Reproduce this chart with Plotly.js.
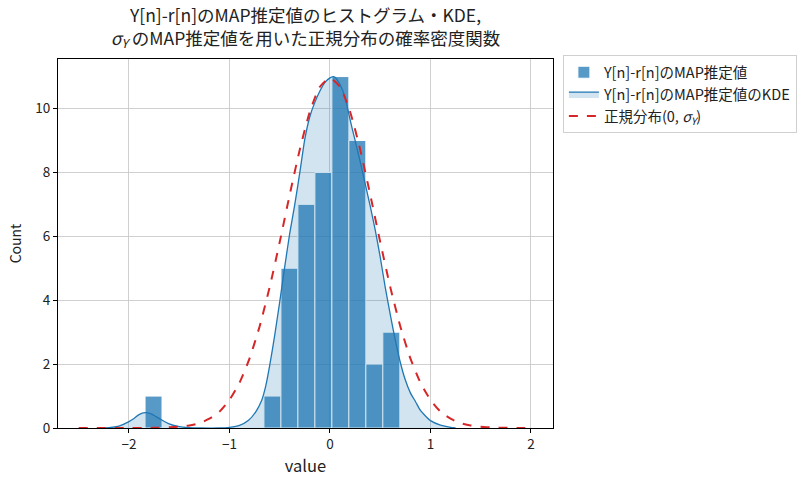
<!DOCTYPE html>
<html>
<head>
<meta charset="utf-8">
<script src="https://cdn.plot.ly/plotly-3.0.1.min.js"></script>
<style>
  body { margin: 0; background: #fff; }
  #myDiv { width: 811px; height: 485px; }
</style>
</head>
<body>
<div id="myDiv"></div>
<script>
// histogram bins (width ~0.169)
var binCenters = [-1.7555, -1.5865, -1.4175, -1.2485, -1.0795, -0.9105, -0.7415,
                  -0.5725, -0.4035, -0.2345, -0.0655, 0.1035, 0.2725, 0.4415, 0.6105];
var counts = [1, 0, 0, 0, 0, 0, 0, 1, 5, 7, 8, 11, 9, 2, 3];
var binWidth = 0.169;

// KDE curve
var kdeX = [-2.30, -2.20, -2.10, -2.00, -1.95, -1.90, -1.84, -1.78, -1.70, -1.60, -1.50, -1.40, -1.30,
            -1.10, -1.00, -0.90, -0.81, -0.74, -0.68, -0.64, -0.60, -0.55, -0.50, -0.45, -0.40,
            -0.35, -0.30, -0.25, -0.20, -0.15, -0.10, -0.05, 0.00, 0.03, 0.05, 0.10, 0.15, 0.20,
            0.25, 0.30, 0.35, 0.40, 0.45, 0.50, 0.55, 0.60, 0.65, 0.70, 0.75, 0.80, 0.85, 0.90,
            1.00, 1.10, 1.20, 1.25];
var kdeY = [0.00, 0.01, 0.06, 0.20, 0.30, 0.42, 0.48, 0.44, 0.30, 0.13, 0.04, 0.01, 0.00,
            0.00, 0.02, 0.08, 0.24, 0.50, 0.86, 1.30, 1.95, 2.90, 3.95, 5.05, 6.10,
            7.00, 8.00, 9.05, 9.75, 10.20, 10.55, 10.82, 10.96, 11.00, 10.98, 10.75, 10.35, 9.65,
            9.00, 8.35, 7.65, 6.95, 6.20, 5.35, 4.40, 3.55, 2.75, 2.05, 1.50, 1.10, 0.83, 0.55,
            0.23, 0.09, 0.02, 0.00];

// normal pdf (0, sigma_Y), scaled
var normX = [-2.5, -2.0, -1.9, -1.8, -1.7, -1.6, -1.5, -1.4, -1.3, -1.2, -1.1, -1.0, -0.9, -0.8,
             -0.7, -0.6, -0.5, -0.4, -0.3, -0.2, -0.1, 0.0, 0.1, 0.2, 0.3, 0.4, 0.5, 0.6, 0.7,
             0.8, 0.9, 1.0, 1.1, 1.2, 1.3, 1.4, 1.5, 1.6, 1.7, 1.8, 1.9, 2.0];
var normY = [0.0, 0.0, 0.001, 0.003, 0.007, 0.02, 0.04, 0.08, 0.15, 0.29, 0.51, 0.88, 1.42, 2.18,
             3.18, 4.41, 5.82, 7.31, 8.72, 9.90, 10.68, 10.95, 10.68, 9.90, 8.72, 7.31, 5.82, 4.41, 3.18,
             2.18, 1.42, 0.88, 0.51, 0.29, 0.15, 0.08, 0.04, 0.02, 0.007, 0.003, 0.001, 0.0];

var xTicks = [-2, -1, 0, 1, 2];
var yTicks = [0, 2, 4, 6, 8, 10];

var FONT = '"Noto Sans CJK JP", "Noto Sans", sans-serif';

var hist = {
  x: binCenters,
  y: counts,
  width: binWidth,
  type: 'bar',
  name: 'Y[n]-r[n]のMAP推定値',
  marker: {
    color: 'rgba(31,119,180,0.75)',
    line: {color: '#ffffff', width: 1}
  }
};

var kde = {
  x: kdeX,
  y: kdeY,
  type: 'scatter',
  mode: 'lines',
  name: 'Y[n]-r[n]のMAP推定値のKDE',
  line: {color: '#1f77b4', width: 1.3, shape: 'spline', smoothing: 0.6},
  fill: 'tozeroy',
  fillcolor: 'rgba(31,119,180,0.2)'
};

var norm = {
  x: normX,
  y: normY,
  type: 'scatter',
  mode: 'lines',
  name: '正規分布(0, <i>σ<sub>Y</sub></i>)',
  line: {color: '#d62728', width: 2, dash: 'dash', shape: 'spline', smoothing: 0.6}
};

var data = [hist, kde, norm];

var layout = {
  width: 811,
  height: 485,
  font: {family: FONT, size: 13.5, color: '#222'},
  paper_bgcolor: '#fff',
  plot_bgcolor: '#fff',
  margin: {l: 58, r: 258, t: 59, b: 57},
  title: {
    text: 'Y[n]-r[n]のMAP推定値のヒストグラム・KDE,<br><i>σ<sub>Y</sub></i> のMAP推定値を用いた正規分布の確率密度関数',
    font: {family: FONT, size: 17.5, color: '#222'},
    x: 0.5, xref: 'paper', xanchor: 'center',
    y: 0.955, yref: 'container', yanchor: 'top'
  },
  xaxis: {
    range: [-2.706, 2.219],
    tickvals: xTicks,
    ticks: 'outside', ticklen: 4, tickcolor: '#000',
    showline: true, linecolor: '#000', linewidth: 1, mirror: true,
    showgrid: true, gridcolor: '#c4c4c4', gridwidth: 0.8,
    zeroline: false,
    tickfont: {size: 13.5},
    title: {text: 'value', font: {size: 16.5}, standoff: 8}
  },
  yaxis: {
    range: [0, 11.55],
    tickvals: yTicks,
    ticks: 'outside', ticklen: 4, tickcolor: '#000',
    showline: true, linecolor: '#000', linewidth: 1, mirror: true,
    showgrid: true, gridcolor: '#c4c4c4', gridwidth: 0.8,
    zeroline: false,
    tickfont: {size: 13.5},
    title: {text: 'Count', font: {size: 14}, standoff: 10}
  },
  showlegend: true,
  legend: {
    x: 1.02, y: 1.01, xanchor: 'left', yanchor: 'top',
    bgcolor: '#fff', bordercolor: '#d0d0d0', borderwidth: 1,
    font: {size: 14.5},
    traceorder: 'normal'
  },
  bargap: 0
};

Plotly.newPlot('myDiv', data, layout, {displayModeBar: false, staticPlot: true});
</script>
</body>
</html>
